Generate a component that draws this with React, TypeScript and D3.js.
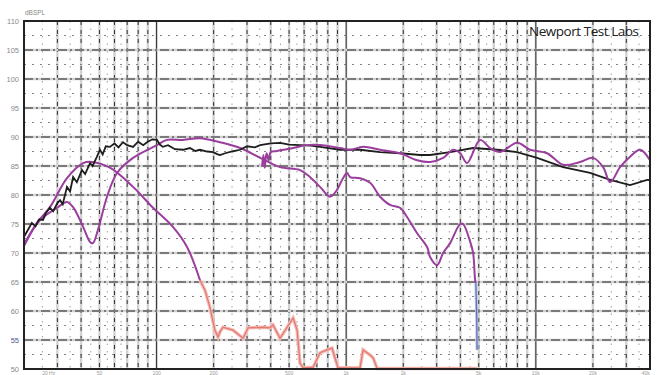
import { useEffect, useRef } from "react"
import * as d3 from "d3"

// frequency (Hz), level (dB SPL) pairs
const totalResponse: [number, number][] = [
  [20, 72.8], [21, 74], [22, 75.2], [23, 74.6], [24, 75.8], [25.2, 75.7], [26, 76.8], [27.4, 77.8],
  [28.5, 77.2], [30, 78.6], [31, 79.1], [32, 78.4], [33.7, 81.4], [35, 80.6], [36.3, 83.1], [38, 82.2],
  [40.4, 84.3], [42, 83.6], [44.6, 85.5], [46, 85.0], [48.5, 86.6], [50.3, 87.8], [52, 87.0], [54, 88.4],
  [56.8, 88.3], [60, 88.9], [63, 88.2], [66.5, 89.1], [70, 88.6], [75.2, 88.3], [80, 89.2], [85, 88.6],
  [89.1, 89.1], [95, 89.6], [100.5, 89.5], [104, 88.7], [108, 88.3], [115, 88.6], [125, 87.9], [138, 87.8],
  [150, 88.1], [160, 87.6], [169.5, 87.8], [185, 87.5], [199, 87.4], [210, 87.0], [216, 86.9], [230, 87.2],
  [250, 87.5], [276, 87.8], [300, 88.4], [330, 88.2], [352, 88.6], [400, 88.9], [448, 89.0], [500, 88.7],
  [571, 88.6], [650, 88.5], [728, 88.3], [929, 87.8], [1183, 87.8], [1510, 87.4], [1923, 87.2], [2455, 86.9],
  [2770, 86.9], [3532, 87.4], [4670, 88.1], [6252, 87.8], [7965, 87.4], [10164, 86.4], [13934, 84.8],
  [19331, 83.8], [24660, 82.6], [31400, 81.7], [38630, 82.6], [40000, 82.6],
]

const bassResponse: [number, number][] = [
  [20, 71.2], [23.4, 75.2], [27.4, 77.9], [33.7, 82.9], [41, 85.5], [45.7, 85.7], [56.8, 84.7],
  [75.2, 81.4], [95.8, 77.8], [122, 74.5], [145, 71.0], [169.5, 65.3],
]

const bassTail: [number, number][] = [
  [169.5, 65.3], [180, 63.6], [191, 60.7], [203, 56.7], [211, 55.5], [216, 56.4], [224, 57.2], [253, 56.7],
  [286, 55.3], [304, 57.1], [365, 57.2], [396, 57.1], [411, 57.6], [448, 55.3], [488, 57.2], [525, 58.8],
  [551, 56.7], [571, 51.0], [593, 50.2], [669, 50.3], [728, 52.8], [793, 53.3], [842, 53.6], [873, 51.9],
  [906, 50.2], [1011, 50.2], [1183, 50.2], [1228, 53.3], [1337, 52.4], [1387, 51.9], [1456, 50.1],
  [4900, 50.1],
]

const midResponse: [number, number][] = [
  [20, 71.5], [24.3, 75.7], [29.9, 77.8], [33.7, 78.8], [36.3, 77.9], [41, 74.5], [44.6, 71.9], [46.2, 71.7],
  [49.1, 74.0], [54.8, 79.7], [61.9, 83.8], [75.2, 86.4], [100.5, 88.6], [113.5, 89.5], [138, 89.5],
  [169.5, 89.8], [216, 89.1], [276, 88.1], [352, 86.4], [448, 84.8], [571, 84.3], [644, 83.1], [728, 81.4],
  [822, 79.7], [895, 80.9], [962, 82.9], [1011, 83.8], [1048, 83.1], [1183, 82.9], [1337, 82.1],
  [1510, 79.7], [1703, 78.3], [1923, 77.8], [2094, 76.2], [2366, 73.4], [2674, 71.0], [2770, 69.3],
  [3016, 67.9], [3245, 70.0], [3532, 71.7], [3990, 75.0], [4133, 75.0], [4500, 72.0], [4670, 70.0],
  [4787, 65.3], [4830, 64.8],
]

const midDrop: [number, number][] = [[4830, 64.8], [4880, 58.5], [4900, 53.3]]

const tweeterResponse: [number, number][] = [
  [360, 84.9], [366, 86.9], [372, 84.7], [380, 87.2], [390, 86.0], [400, 87.4], [432, 87.6], [525, 88.1],
  [622, 88.6], [728, 88.6], [929, 88.1], [1048, 87.8], [1228, 88.3], [1510, 87.8], [1923, 87.2],
  [2366, 86.0], [2770, 85.7], [3245, 86.4], [3665, 87.8], [3990, 87.2], [4338, 85.5], [5083, 89.5],
  [5741, 88.1], [6487, 87.4], [7965, 89.0], [9333, 87.8], [11466, 87.2], [13934, 85.2], [17121, 85.7],
  [20050, 86.4], [22640, 84.8], [24660, 82.2], [27810, 84.8], [31400, 86.6], [35500, 87.8], [40000, 86.0],
]

const yTicks = [110, 105, 100, 95, 90, 85, 80, 75, 70, 65, 60, 55, 50]
const xTickLabels: [number, string][] = [
  [27, "20 Hz"], [50, "50"], [100, "100"], [200, "200"], [500, "500"], [1000, "1k"],
  [2000, "2k"], [5000, "5k"], [10000, "10k"], [20000, "20k"], [38000, "40k"],
]

export default function App() {
  const svgRef = useRef<SVGSVGElement>(null)

  useEffect(() => {
    if (!svgRef.current) return
    const width = 660
    const height = 375
    const margin = { top: 21, right: 10, bottom: 6, left: 24 }

    const svg = d3.select(svgRef.current)
    svg.selectAll("*").remove()
    svg.attr("width", width).attr("height", height)

    const x = d3.scaleLog().domain([20, 40000]).range([margin.left, width - margin.right])
    const y = d3.scaleLinear().domain([50, 110]).range([height - margin.bottom, margin.top])

    svg.append("rect").attr("width", width).attr("height", height).attr("fill", "#fff")

    const grid = svg.append("g")

    // vertical grid: 1..9 per decade, plus half steps
    const mainFreqs: number[] = []
    const halfFreqs: number[] = []
    ;[10, 100, 1000, 10000].forEach((d) => {
      for (let m = 1; m <= 9; m++) {
        const f = d * m
        if (f > 20 && f < 40000) mainFreqs.push(f)
      }
      ;[2.5, 3.5, 4.5, 5.5, 6.5].forEach((m) => {
        const f = d * m
        if (f > 20 && f < 40000) halfFreqs.push(f)
      })
    })

    grid.selectAll(".vhalo")
      .data(mainFreqs)
      .join("line")
      .attr("x1", (d) => x(d)).attr("x2", (d) => x(d))
      .attr("y1", y(110)).attr("y2", y(50))
      .attr("stroke", "#d2d2d2").attr("stroke-width", 2.4)

    grid.selectAll(".vhalf")
      .data(halfFreqs)
      .join("line")
      .attr("x1", (d) => x(d)).attr("x2", (d) => x(d))
      .attr("y1", y(110)).attr("y2", y(50))
      .attr("stroke", "#888").attr("stroke-width", 0.8)
      .attr("stroke-dasharray", "1.5,6")

    grid.selectAll(".vmain")
      .data(mainFreqs)
      .join("line")
      .attr("x1", (d) => x(d)).attr("x2", (d) => x(d))
      .attr("y1", y(110)).attr("y2", y(50))
      .attr("stroke", "#333").attr("stroke-width", 1)
      .attr("stroke-dasharray", (d) => ([100, 1000, 10000].includes(d) ? null : "4,5"))

    // horizontal grid
    const minorDb = d3.range(52.5, 110, 5)
    const majorDb = d3.range(55, 110, 5)
    grid.selectAll(".hhalo")
      .data(majorDb)
      .join("line")
      .attr("x1", x(20)).attr("x2", x(40000))
      .attr("y1", (d) => y(d)).attr("y2", (d) => y(d))
      .attr("stroke", "#d2d2d2").attr("stroke-width", 2.4)
    grid.selectAll(".hminor")
      .data(minorDb)
      .join("line")
      .attr("x1", x(20)).attr("x2", x(40000))
      .attr("y1", (d) => y(d)).attr("y2", (d) => y(d))
      .attr("stroke", "#666").attr("stroke-width", 0.8)
      .attr("stroke-dasharray", "2,6")
    grid.selectAll(".hmajor")
      .data(majorDb)
      .join("line")
      .attr("x1", x(20)).attr("x2", x(40000))
      .attr("y1", (d) => y(d)).attr("y2", (d) => y(d))
      .attr("stroke", "#222").attr("stroke-width", 1)
      .attr("stroke-dasharray", "9,3,2,3")

    const line = d3.line<[number, number]>().x((d) => x(d[0])).y((d) => y(d[1]))
    const smooth = d3.line<[number, number]>()
      .x((d) => x(d[0])).y((d) => y(d[1]))
      .curve(d3.curveCatmullRom.alpha(0.5))

    const purple = "#9a3e9e"

    svg.append("path").datum(bassTail).attr("d", line)
      .attr("fill", "none").attr("stroke", "#f4bdb7").attr("stroke-width", 3.5)
    svg.append("path").datum(bassTail).attr("d", line)
      .attr("fill", "none").attr("stroke", "#e27b73").attr("stroke-width", 1.3)

    svg.append("path").datum(bassResponse).attr("d", smooth)
      .attr("fill", "none").attr("stroke", purple).attr("stroke-width", 2)
    svg.append("path").datum(midResponse).attr("d", smooth)
      .attr("fill", "none").attr("stroke", purple).attr("stroke-width", 2)

    svg.append("path").datum(midDrop).attr("d", line)
      .attr("fill", "none").attr("stroke", "#b9c3e6").attr("stroke-width", 3)
    svg.append("path").datum(midDrop).attr("d", line)
      .attr("fill", "none").attr("stroke", "#5f74b8").attr("stroke-width", 1.2)

    svg.append("path").datum(totalResponse).attr("d", line)
      .attr("fill", "none").attr("stroke", "#1e1e1e").attr("stroke-width", 1.8)

    svg.append("path").datum(tweeterResponse).attr("d", smooth)
      .attr("fill", "none").attr("stroke", purple).attr("stroke-width", 2)

    // frame
    svg.append("rect")
      .attr("x", x(20)).attr("y", y(110))
      .attr("width", x(40000) - x(20)).attr("height", y(50) - y(110))
      .attr("fill", "none").attr("stroke", "#222").attr("stroke-width", 2)

    // y labels
    svg.selectAll(".ylab")
      .data(yTicks)
      .join("text")
      .attr("x", 19).attr("y", (d) => y(d) + 2.5)
      .attr("text-anchor", "end")
      .attr("font-family", "'Liberation Sans Narrow', 'Liberation Sans', sans-serif")
      .attr("font-size", "7.5px")
      .attr("fill", (d) => (d === 55 ? "#4a5a8a" : "#8a8a8a"))
      .text((d) => d)

    svg.append("text")
      .attr("x", 25).attr("y", 15)
      .attr("font-family", "'Liberation Sans', sans-serif")
      .attr("font-size", "6.5px")
      .attr("fill", "#888")
      .text("dBSPL")

    // x labels sit just under the frame, as small as the scan shows them
    svg.selectAll(".xlab")
      .data(xTickLabels)
      .join("text")
      .attr("x", (d) => x(d[0])).attr("y", 374.5)
      .attr("text-anchor", "middle")
      .attr("font-family", "'Liberation Sans', sans-serif")
      .attr("font-size", "5px")
      .attr("fill", "#999")
      .text((d) => d[1])

    svg.append("text")
      .attr("x", 529).attr("y", 36)
      .attr("font-family", "'Open Sans', 'Liberation Sans', sans-serif")
      .attr("font-size", "13.5px")
      .attr("font-weight", 500)
      .attr("textLength", 110)
      .attr("fill", "#222")
      .text("Newport Test Labs")
  }, [])

  return (
    <div style={{ position: "absolute", left: 0, top: 0, width: 660, height: 375, overflow: "hidden" }}>
      <svg ref={svgRef}></svg>
    </div>
  )
}
